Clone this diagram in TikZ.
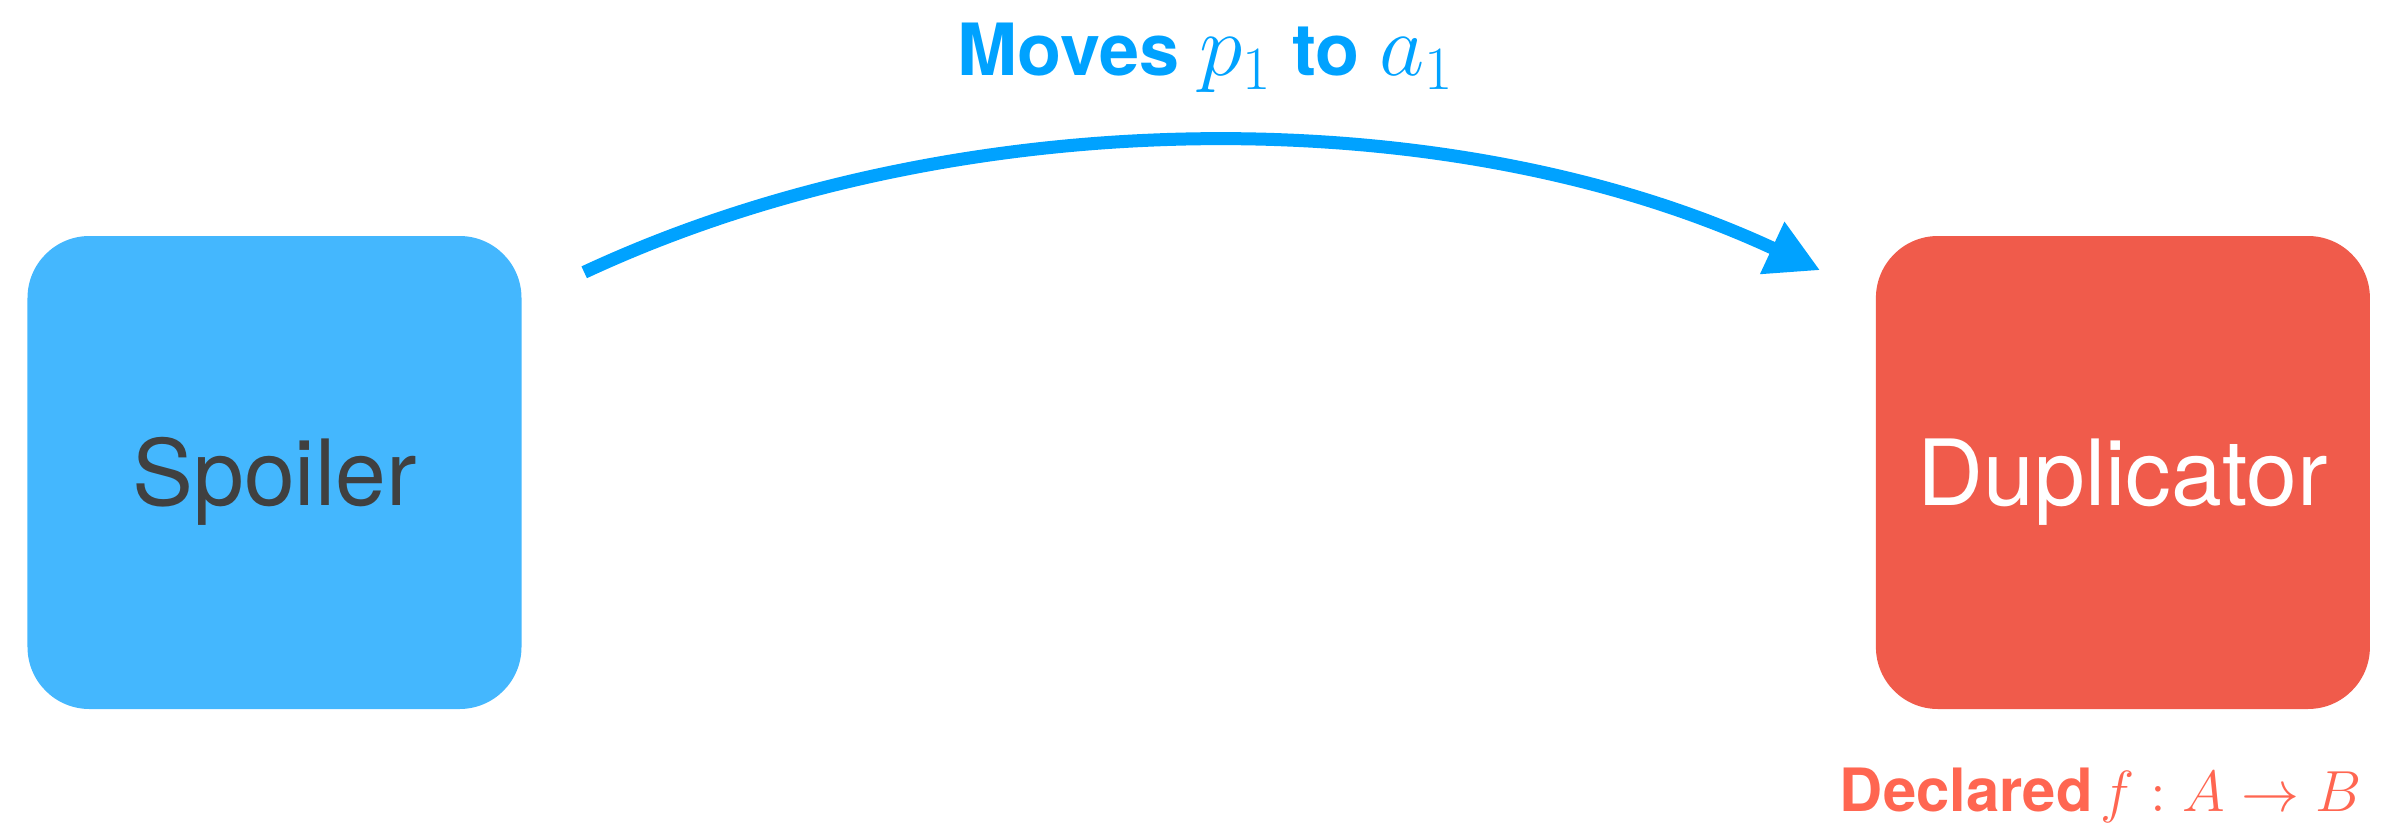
\RequirePackage{fix-cm}
\documentclass[tikz,border=0pt]{standalone}
\usepackage{fontspec}
\setmainfont{TeX Gyre Heros}
\usepackage{xcolor}
\usepackage{tikz}
\usetikzlibrary{arrows.meta, positioning}

\definecolor{spoilerblue}{HTML}{44B7FE}
\definecolor{dupred}{HTML}{F05B4B}
\definecolor{movecolor}{HTML}{00A2FF}
\definecolor{declcolor}{HTML}{FF6651}
\definecolor{textgray}{HTML}{404040}

\begin{document}
\begin{tikzpicture}[
    player/.style={rectangle, rounded corners=0.62cm, minimum width=4.94cm, minimum height=4.73cm, inner sep=0pt, align=center, font=\fontsize{26}{30}\selectfont, text height=0.65cm, text depth=0pt},
    spoilerbox/.style={player, fill=spoilerblue, text=textgray},
    dupbox/.style={player, fill=dupred, text=white},
    movelabel/.style={anchor=base west, inner sep=0pt, text=movecolor, font=\fontsize{20.5}{24}\selectfont\bfseries},
    decllabel/.style={anchor=base east, inner sep=0pt, text=declcolor, font=\fontsize{17}{20}\selectfont\bfseries},
    arrow/.style={-{Triangle[length=0.53cm, width=0.54cm]}, line width=0.13cm, color=movecolor}
]
\useasboundingbox (0,0) rectangle (23.96,-8.26);

\node (spoiler) [spoilerbox] at (2.745,-4.725) {Spoiler};
\node (dup) [dupbox, right=13.53cm of spoiler] {Duplicator};

\draw [arrow] ([shift={(0.62,-0.37)}]spoiler.north east) to[out=25, in=155, looseness=0.85] ([shift={(-0.55,-0.35)}]dup.north west);

\node (move) [movelabel] at (9.57,-0.76) {Moves {\fontsize{25}{30}\selectfont$p_1$} to {\fontsize{25}{30}\selectfont$a_1$}};
\node (decl) [decllabel] at (23.62,-8.11) {Declared\hspace{-0.15em} {\fontsize{16.5}{20}\selectfont$f : A \to B$}};

\end{tikzpicture}
\end{document}
